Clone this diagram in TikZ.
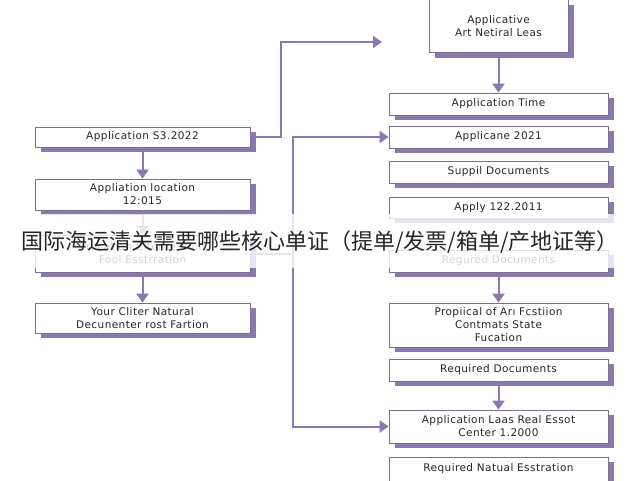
\documentclass[tikz,border=0pt]{standalone}
\usepackage{fontspec}
\setmainfont{DejaVu Sans}[LetterSpace=4]
\newfontfamily\cjk{Noto Sans CJK SC}
\usetikzlibrary{shadows}
\definecolor{purp}{HTML}{8A78B0}
\definecolor{edge}{HTML}{7A7090}
\tikzset{
  box/.style={draw=edge, line width=0.8pt, fill=white, align=center,
    minimum width=219pt, inner ysep=1pt, font=\fontsize{10.5}{13}\selectfont, text=black!85,
    drop shadow={shadow xshift=6pt, shadow yshift=-5pt, fill=purp, opacity=1}},
  lbox/.style={box, minimum width=215pt},
  link/.style={draw=purp, line width=2pt},
  arr/.style={link, -{Triangle[length=9pt,width=12pt]}}
}
\usetikzlibrary{arrows.meta}
\begin{document}
\begin{tikzpicture}[x=1pt, y=-1pt]
	\useasboundingbox (0,0) rectangle (640,480);
	% left column
	\node[lbox, minimum height=20pt] (l1) at (142.5,137) {Application S3.2022};
	\node[lbox, minimum height=31pt] (l2) at (142.5,194.5) {Appliation location\\12:015};
	\node[lbox, minimum height=37pt] (l3) at (142.5,253.5) {Procation Citer Iession\\Fool Esstrration};
	\node[lbox, minimum height=30pt] (l4) at (142.5,318) {Your Cliter Natural\\Decunenter rost Fartion};
	\draw[arr] (l1.south) -- (l2.north);
	\draw[arr] (l2.south) -- (l3.north);
	\draw[arr] (l3.south) -- (l4.north);
	
	% right column
	\node[box, minimum width=139pt, minimum height=53pt] (top) at (498.5,26) {Applicative\\Art Netiral Leas};
	\node[box, minimum height=22pt] (r1) at (498.5,104) {Application Time};
	\node[box, minimum height=22pt] (r2) at (498.5,137) {Applicane 2021};
	\node[box, minimum height=22pt] (r3) at (498.5,172) {Suppil Documents};
	\node[box, minimum height=21pt] (r4) at (498.5,207.5) {Apply 122.2011};
	\node[box, minimum height=22pt] (r5) at (498.5,261) {Regured Documents};
	\node[box, minimum height=44pt] (r6) at (498.5,325) {Propiical of Arı Fcstiion\\Contmats State\\Fucation};
	\node[box, minimum height=22pt] (r7) at (498.5,370) {Required Documents};
	\node[box, minimum height=33pt] (r8) at (498.5,426.5) {Application Laas Real Essot\\Center 1.2000};
	\node[box, minimum height=24pt] (r9) at (498.5,469) {Required Natual Esstration};
	\draw[arr] (top.south) -- (r1.north);
	\draw[arr] (r5.south) -- (r6.north);
	\draw[arr] (r7.south) -- (r8.north);
	
	% connectors
	\coordinate (t1) at (382,42);
	\draw[arr] (l1.east) -| (281,42) -- (t1);
	\draw[link] (l3.east) -- (293,253.5);
	\draw[arr] (293,426) |- (r2.west);
	\draw[arr] (293,400) |- (r8.west);
	
	% caption band
	\fill[white, opacity=0.8] (0,214) rectangle (640,268);
	\node[font=\cjk\fontsize{22}{24}\selectfont, text=black!85] (cap) at (320,242)
		{国际海运清关需要哪些核心单证（提单/发票/箱单/产地证等）};
\end{tikzpicture}
\end{document}
